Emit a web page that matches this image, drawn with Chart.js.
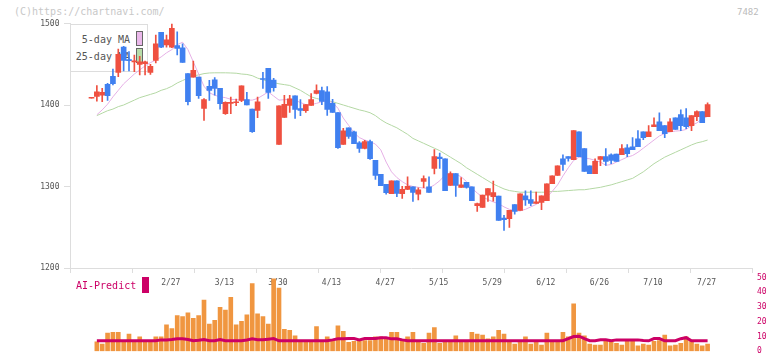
<!DOCTYPE html>
<html><head><meta charset="utf-8">
<script src="https://cdn.jsdelivr.net/npm/chart.js@4/dist/chart.umd.min.js"></script>
<style>
html,body{margin:0;padding:0;background:#fff;}
#wrap{position:relative;width:772px;height:361px;overflow:hidden;font-family:"DejaVu Sans Mono",monospace;}
.t{position:absolute;white-space:nowrap;line-height:12px;}
canvas{position:absolute;left:0;}
</style></head><body>
<div id="wrap">
 <div class="t" style="left:14px;top:6px;font-size:10px;color:#c8c8c8">(C)https://chartnavi.com/</div>
 <div class="t" style="left:737px;top:6px;font-size:9px;color:#bbb">7482</div>
 <div style="position:absolute;left:70px;top:24px;width:77px;height:46px;border:1px solid #ddd;border-left:none;"></div>
 <div class="t" style="left:0;width:130px;text-align:right;top:34px;font-size:10px;color:#555">5-day MA</div>
 <div class="t" style="left:0;width:130px;text-align:right;top:51px;font-size:10px;color:#555">25-day MA</div>
 <div style="position:absolute;left:136px;top:31px;width:5px;height:13px;border:1px solid #666;background:#eab8ea"></div>
 <div style="position:absolute;left:136px;top:48px;width:5px;height:13px;border:1px solid #666;background:#b8dca8"></div>
 <canvas id="c1" width="772" height="300" style="top:0"></canvas>
 <canvas id="c2" width="772" height="99" style="top:262px"></canvas>
 <div class="t" style="left:76px;top:280px;font-size:10px;color:#cc0066">AI-Predict</div>
 <div style="position:absolute;left:142px;top:277px;width:7px;height:16px;background:#cc0066"></div>
</div>
<script>
const dateLabels = ["2/27","3/13","3/30","4/13","4/27","5/15","5/29","6/12","6/26","7/10","7/27"];
const dateIdx = [15,25,35,45,55,65,75,85,95,105,115];
const priceTicks = [1200,1300,1400,1500];
const volTicks = [0,10,20,30,40,50];

const open = [1408.3,1410.6,1412.2,1425.3,1435.1,1440,1471.1,1455.5,1453,1449.8,
1450.6,1440,1454.7,1489.1,1473.6,1471.1,1472.8,1470.3,1438.4,1434.3,
1434.3,1395.8,1422.8,1431,1420.4,1389.3,1402,1402.8,1405.7,1406.5,
1395,1393.4,1432,1445,1430.7,1351.7,1384.8,1399.6,1411.4,1395.5,
1393,1399.6,1414.3,1417.6,1416.3,1402,1390.6,1351.7,1372.1,1367.2,
1353.7,1346.8,1355,1332.1,1314.9,1302.6,1291.2,1307.1,1291.2,1296.5,
1299.7,1290.7,1306.3,1299.7,1322.2,1336.1,1334.1,1301.4,1315.7,1298.9,
1305.1,1299.7,1276.4,1274.4,1289.5,1287.5,1288.3,1261.3,1260.5,1277.7,
1270.7,1288.7,1283.8,1279.3,1280.5,1282.6,1303.4,1313.6,1334.1,1336.6,
1332.9,1367.2,1346.4,1325.5,1315.7,1333.3,1336.6,1339,1339.8,1339,
1347.6,1348.8,1358.6,1367.2,1361.1,1373.4,1379.5,1374.6,1367.2,1384.4,
1388.1,1384.4,1374.6,1385.6,1391.8,1385.6];
const high = [1408.7,1423.7,1420.4,1426.5,1444.1,1468.7,1471.9,1465.4,1461.3,1459.7,
1453.9,1449.8,1485.8,1489.1,1485.8,1499.7,1489.9,1475.2,1438.4,1453.9,
1434.3,1408,1430.2,1433.5,1420.4,1404,1409.8,1407.3,1423.6,1415.5,
1395,1409.8,1440,1445,1432.7,1399.1,1411.8,1411.8,1411.4,1406.5,
1400.4,1413.9,1424.9,1422.1,1422.5,1406.9,1390.6,1371.3,1372.1,1368,
1355,1356.6,1357,1332.1,1314.9,1302.6,1307.1,1307.1,1300.2,1312,
1299.7,1298.5,1313.2,1312,1345.2,1341.1,1334.1,1318.1,1315.7,1310.8,
1305.1,1299.7,1279.7,1289.5,1297.3,1306.7,1288.3,1264.5,1270.7,1277.7,
1291.1,1294.8,1294.8,1293.2,1288.7,1303.4,1313.2,1325.5,1339,1336.6,
1368.5,1367.2,1346.4,1325.5,1334.1,1336.6,1346.4,1340.2,1339.8,1351.3,
1351.3,1359.9,1368.5,1367.2,1374.6,1384.4,1390.5,1374.6,1383.2,1384.4,
1394.2,1395.5,1386.9,1393,1391.8,1402.8];
const low = [1408.3,1404.8,1404,1405.7,1424.5,1434.7,1441.7,1441.7,1440.9,1436.8,
1436.8,1437.6,1451.5,1470.3,1471.1,1470.3,1461.3,1452.3,1400,1434.3,
1408.1,1381.1,1405.7,1412.2,1395,1388.5,1389.3,1399.1,1404,1400,
1366.4,1384.4,1420.4,1408.1,1417.1,1351.7,1384.8,1391,1383.6,1386.9,
1391,1399.6,1413.5,1400.4,1387.3,1391,1346.8,1351.7,1359,1352.5,
1341.9,1346,1333.3,1308.7,1301,1290.7,1291.2,1287.5,1285.4,1296,
1281.7,1283.4,1298.5,1292.8,1315.3,1322.2,1294.8,1301.4,1287.9,1298.9,
1298.1,1282.6,1269.5,1274.4,1281.7,1282.1,1258.4,1246.2,1249.8,1266.2,
1270.7,1276.8,1276.4,1279.3,1271.5,1282.6,1303.4,1313.6,1319.8,1331,
1332.9,1336.6,1318.5,1315.7,1315.7,1325.5,1325.9,1328,1330.8,1339,
1336.5,1345.1,1348.8,1357.4,1361.1,1373.4,1368.5,1359.9,1367.2,1370.1,
1368.5,1370.9,1368.5,1380.7,1378.3,1385.6];
const close = [1408.7,1416.3,1415.5,1411.4,1426.1,1462.1,1454.7,1454.5,1454,1453.1,
1453.1,1447.4,1475.2,1471.1,1480.1,1494,1469.5,1452.3,1404,1442.5,
1411.4,1406.5,1417.9,1420.4,1401.6,1403.2,1402.6,1403.6,1423.6,1400,
1367.2,1404,1431.3,1415.5,1421.2,1399.1,1400.8,1407.7,1394.6,1393.4,
1400.4,1406.5,1417.6,1404.5,1394.6,1391,1347.6,1368.4,1361.5,1352.5,
1346.8,1355,1334.1,1313.6,1301,1292.4,1307.1,1291.6,1296.5,1300.2,
1292.8,1296,1309.6,1292.8,1336.6,1334.1,1294.8,1315.7,1301.4,1302.2,
1298.9,1282.6,1278.9,1289.5,1297.3,1292.4,1258.4,1259.2,1270.7,1269.5,
1291.1,1283.4,1279.3,1281.3,1288.7,1303.4,1313.2,1325.5,1327.1,1334.5,
1368.5,1336.6,1318.5,1315.7,1330.8,1336.6,1330.8,1332,1330.8,1346.4,
1340.2,1345.1,1348.8,1359.9,1367.2,1375.8,1368.5,1364.8,1379.5,1370.1,
1374.6,1373.4,1386.9,1391.8,1378.3,1400.4];
const ma5 = [null,1388,1394,1401,1410,1418,1426,1432,1438,1443,
1448,1452,1455,1459,1464,1468,1474,1477,1468,1453,
1438,1423,1415,1412,1410,1409,1407,1406.5,1406,1406,
1406,1408,1412,1416,1411,1406,1406.5,1407,1406,1403,
1400.5,1400.5,1402,1404,1405,1403,1396,1384,1375,1366,
1360,1357,1355,1352,1345,1330,1318,1311,1306,1302,
1300,1299,1298,1298,1302,1307,1314,1316,1315,1312,
1306,1298,1292,1287,1284,1281,1279,1275,1272,1270.5,
1270,1272,1275,1278,1282,1287,1294,1302,1313,1323,
1332,1336,1335,1334,1332,1330,1326,1327,1330,1333,
1336,1338,1342,1347,1352,1357,1362,1365,1367,1368,
1368.5,1370,1375,1378,1383,1386];
const ma25 = [null,1387,1390,1393,1395,1398,1400,1403,1406,1409,
1411,1413,1415,1418,1420,1423,1427,1430,1433,1435.5,
1437,1438.5,1439.3,1439.5,1439.5,1439.5,1439.3,1439,1438,1437.5,
1436,1433,1431,1429,1427.5,1426,1425,1424,1421,1418,
1414,1410,1408,1406.5,1405.5,1404,1402,1400,1398,1396,
1394,1392.5,1390.5,1387,1382,1378,1375,1372,1368,1364,
1359,1356,1353,1350,1347,1344,1340,1336,1332,1328,
1323,1319,1315,1311,1307,1303,1300,1297,1295,1294,
1293,1293,1293,1293,1293,1293,1294,1294,1294.5,1295,
1295.5,1296,1296,1297,1298,1299,1300.5,1302,1304,1306,
1308,1310,1314,1318,1323,1328,1332,1336,1339,1342,
1345,1348,1351,1353.5,1355,1357];
const volume = [null,6.3,4.8,12.3,12.9,12.9,7.3,11.7,7.3,9.8,
7.3,7.3,9.8,9.8,17.9,15.4,24.2,23.6,26.1,22.3,
24.2,34.8,18.5,21,29.8,27.9,36.7,17.9,20.4,24.8,
46,25.4,23.6,18.5,49.2,43,14.8,14.2,10.4,7.3,
7.3,7.3,16.7,7.3,9.8,7.3,17.3,13.5,6,6.7,
7.3,7.3,7.3,9.8,9.8,8.2,12.9,12.9,7.3,9.8,
12.9,7.3,5.4,12.3,16.1,5.4,7.3,7.3,10.4,7.3,
7.3,12.9,11.7,11,8.5,9.8,14.2,11.7,7.3,4.8,
7.3,9.8,4.8,7.3,4.2,12.3,7.3,7.3,12.9,9.8,
32.3,12.3,10.4,4.8,4.2,4.2,6.7,7.3,5.4,4.2,
7.3,7.3,3.6,4.8,4.2,6.7,7.3,11,3.6,4.2,
5.4,9.8,6.7,4.8,3.6,4.8];
const aiPredict = [null,7.1,7.1,7.1,7.1,7.1,7.1,7.1,7.1,7.1,
7.1,7.1,7.1,7.7,7.7,8.0,8.4,8.4,8.0,7.1,
7.4,7.9,7.1,7.1,7.9,7.1,7.1,7.1,7.1,7.6,
8.4,7.8,7.8,8.2,8.6,7.1,7.1,7.1,7.1,7.1,
7.1,7.1,7.1,7.1,7.1,7.7,8.4,8.4,8.6,8.6,
7.7,8.6,8.6,8.6,9.2,9.2,8.4,8.4,7.7,7.1,
7.1,7.1,7.1,7.1,7.1,7.1,7.1,7.1,7.1,7.1,
7.1,7.1,7.1,7.1,7.1,7.1,7.1,7.1,7.1,7.1,
7.1,7.1,7.1,7.1,7.1,7.1,7.1,7.1,7.1,8.5,
10.0,10.2,8.5,7.1,7.1,7.8,7.8,7.1,7.7,7.7,
7.7,7.7,7.7,7.3,7.1,8.6,8.6,7.1,7.1,7.1,
8.5,9.2,7.1,7.1,7.1,7.1];

const RED = '#ef5040', BLUE = '#4080f0';
const XMIN = -4.013, XMAX = 123.29;
const FONT = {family: '"DejaVu Sans Mono", monospace', size: 8};
const idx = open.map((_, i) => i);
const upColor = ctx => close[ctx.dataIndex] >= open[ctx.dataIndex] ? RED : BLUE;

new Chart(document.getElementById('c1'), {
  type: 'bar',
  data: {
    datasets: [
      {label: 'body', data: idx.map(i => ({x: i, y: [open[i], close[i]]})),
       backgroundColor: upColor, barThickness: 5, minBarLength: 1, grouped: false, order: 0},
      {label: 'wick', data: idx.map(i => ({x: i, y: [low[i], high[i]]})),
       backgroundColor: upColor, barThickness: 1, minBarLength: 1, grouped: false, order: 1},
      {type: 'line', label: '5-day MA', data: idx.map(i => ({x: i, y: ma5[i]})),
       borderColor: '#e6b0e6', borderWidth: 1, pointRadius: 0, tension: 0, order: 2},
      {type: 'line', label: '25-day MA', data: idx.map(i => ({x: i, y: ma25[i]})),
       borderColor: '#b4d8a4', borderWidth: 1, pointRadius: 0, tension: 0, order: 3}
    ]
  },
  options: {
    responsive: false, animation: false, devicePixelRatio: 1,
    layout: {padding: {top: 23.5, right: 20, left: 0, bottom: 0}},
    plugins: {legend: {display: false}, tooltip: {enabled: false}},
    scales: {
      x: {type: 'linear', min: XMIN, max: XMAX, offset: false, weight: 0,
          grid: {display: true, drawOnChartArea: false, offset: false, color: '#dddddd', tickLength: 5},
          border: {display: true, color: '#dddddd'},
          ticks: {display: false},
          afterBuildTicks: s => { s.ticks = Array.from({length: 12}, (_, k) => ({value: XMIN + k * (XMAX - XMIN) / 11})); },
          afterFit: s => { s.height = 6; }},
      xd: {type: 'linear', position: 'bottom', min: XMIN, max: XMAX, offset: false, weight: 1,
          grid: {display: false, drawTicks: false}, border: {display: false},
          ticks: {color: '#555', font: FONT, padding: 4, maxRotation: 0, autoSkip: false,
                  callback: (v, i) => dateLabels[i]},
          afterBuildTicks: s => { s.ticks = dateIdx.map(v => ({value: v - 0.2})); },
          afterFit: s => { s.height = 26; }},
      y: {type: 'linear', min: 1200, max: 1500,
          grid: {display: true, drawOnChartArea: false, color: '#dddddd', tickLength: 6},
          border: {display: true, color: '#dddddd'},
          ticks: {color: '#555', font: FONT, padding: 4.5, callback: v => String(v)},
          afterBuildTicks: s => { s.ticks = priceTicks.map(v => ({value: v})); },
          afterFit: s => { s.width = 70; }}
    }
  }
});

new Chart(document.getElementById('c2'), {
  type: 'bar',
  data: {
    datasets: [
      {type: 'line', label: 'AI-Predict', data: idx.map(i => ({x: i, y: aiPredict[i]})),
       borderColor: '#cc0066', borderWidth: 3, pointRadius: 0, tension: 0, order: 0},
      {label: 'volume', data: idx.map(i => ({x: i, y: volume[i]})),
       backgroundColor: '#f09640', barThickness: 4, grouped: false, order: 1}
    ]
  },
  options: {
    responsive: false, animation: false, devicePixelRatio: 1,
    layout: {padding: {top: 15.7, right: 0, left: 70, bottom: 3.3}},
    plugins: {legend: {display: false}, tooltip: {enabled: false}},
    scales: {
      x: {type: 'linear', min: XMIN, max: XMAX, offset: false, display: false},
      y: {type: 'linear', position: 'right', min: 0, max: 50,
          grid: {display: false, drawTicks: false}, border: {display: false},
          ticks: {color: '#cc0066', font: FONT, padding: 5, callback: v => String(v)},
          afterBuildTicks: s => { s.ticks = volTicks.map(v => ({value: v})); },
          afterFit: s => { s.width = 20; }}
    }
  }
});
</script>
</body></html>
